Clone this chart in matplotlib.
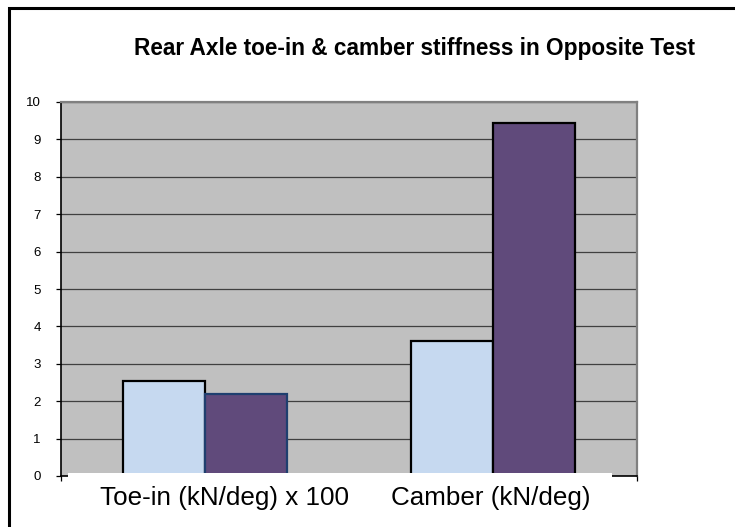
import matplotlib
matplotlib.use("Agg")
import matplotlib.pyplot as plt
from matplotlib.patches import Rectangle

plt.rcParams['font.family'] = ['Liberation Sans', 'DejaVu Sans']

categories = ["Toe-in (kN/deg) x 100", "Camber (kN/deg)"]
series_a = [2.55, 3.61]
series_b = [2.18, 9.43]
yticks = list(range(0, 11))

fig = plt.figure(figsize=(7.35, 5.27), dpi=100)
ax = fig.add_axes([61/735, 51/527, 576/735, 374/527])
ax.set_facecolor("#C0C0C0")
ax.set_axisbelow(True)

x = list(range(len(categories)))
w = 0.285
ax.bar([i - w/2 for i in x], series_a, width=w, color="#C6D9F0",
       edgecolor="black", linewidth=1.6)
ax.bar([i + w/2 for i in x], series_b, width=w, color="#604A7B",
       edgecolor=["#1F3F6F", "black"], linewidth=1.6)

ax.set_xlim(-0.5, 1.5)
ax.set_ylim(0, 10)
ax.set_yticks(yticks)
ax.set_yticklabels([str(t) for t in yticks], fontsize=9.5)
ax.yaxis.grid(True, color="#404040", linewidth=0.9)
ax.tick_params(axis="y", length=3.6, width=0.9, pad=11)
ax.set_xticks([-0.5, 0.5, 1.5])
ax.set_xticklabels([])
ax.tick_params(axis="x", length=3.6, width=0.9)

ax.spines["left"].set_linewidth(1.2)
ax.spines["bottom"].set_linewidth(1.2)
ax.spines["top"].set_color("#808080")
ax.spines["top"].set_linewidth(1.6)
ax.spines["right"].set_color("#808080")
ax.spines["right"].set_linewidth(1.6)

# white label box covering the bottom of the plot area
ax.add_patch(Rectangle((68/735, 0), 544/735, 54/527, transform=fig.transFigure,
                       facecolor="white", edgecolor="none", clip_on=False, zorder=4))

label_shift = [0.067, -0.007]
for i, name in enumerate(categories):
    ax.text(i + label_shift[i], -0.058, name, transform=ax.get_xaxis_transform(),
            ha="center", va="center", fontsize=18.7, clip_on=False, zorder=5)

fig.text(415/735, 1 - 48/527, "Rear Axle toe-in & camber stiffness in Opposite Test",
         ha="center", va="center", fontsize=16.3, fontweight="bold")

# outer chart frame
fig.add_artist(Rectangle((9/735, -0.05), 1.05, 1 - 8/527 + 0.05, transform=fig.transFigure,
                         facecolor="none", edgecolor="black", linewidth=2.2))

fig.savefig("out.png", dpi=100)
